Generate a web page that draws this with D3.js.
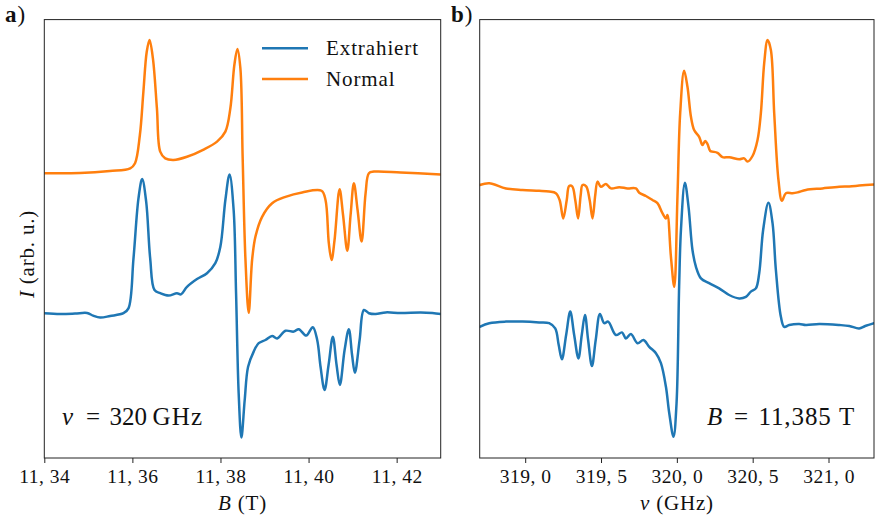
<!DOCTYPE html>
<html>
<head>
<meta charset="utf-8">
<script src="https://cdn.jsdelivr.net/npm/d3@7"></script>
<style>
  html, body { margin: 0; padding: 0; background: #fff; }
  svg { display: block; }
  text { font-family: "Liberation Serif", "DejaVu Serif", serif; fill: #111; }
</style>
</head>
<body>
<svg id="chart" width="875" height="518"></svg>
<script>
// ---- Panel a: field sweep at 320 GHz (B in tesla, intensity in arb. units)
const fieldNormal = [
  [11.3400,71.2],[11.3481,71.25],[11.3549,71.75],[11.3595,72.4],[11.3606,73.7],[11.3617,80.75],
  [11.3625,91.6],[11.36325,101.5],[11.36389,104.5],[11.36466,99.9],[11.36557,87.4],[11.36632,76.6],
  [11.36746,74.9],[11.36934,74.5],[11.37239,75.3],[11.37617,77.1],[11.37922,79.1],[11.38111,81.6],
  [11.38224,87.4],[11.38315,98.25],[11.38384,102.25],[11.38452,97.4],[11.38504,74.9],[11.38566,49.9],
  [11.38641,36.3],[11.38718,49.5],[11.38793,55.3],[11.38945,60.3],[11.39173,63.7],[11.39476,65.3],
  [11.39855,66.4],[11.40294,66.8],[11.40385,64.5],[11.40460,53.7],[11.40522,49.5],[11.40590,54.5],
  [11.40704,67.2],[11.40783,60.75],[11.40879,51.8],[11.40954,60.75],[11.41029,68.7],[11.41113,62],
  [11.41204,54.1],[11.41295,66.2],[11.41370,71.2],[11.41484,71.6],[11.42091,71.4],[11.4300,70.9]
];
const fieldExtracted = [
  [11.3400,36.2],[11.34357,36],[11.34698,36.1],[11.34971,36.25],[11.35108,35.6],[11.35267,35.1],
  [11.35495,35.5],[11.35797,36.2],[11.35911,37.4],[11.36025,49.9],[11.36138,64.9],[11.36222,69.75],
  [11.36313,64.1],[11.36404,49.9],[11.36502,42],[11.36632,41.2],[11.36821,40.6],[11.37012,41.2],
  [11.37103,40.9],[11.37239,42.8],[11.37467,44.75],[11.37694,46.2],[11.37883,48.7],[11.37997,52.8],
  [11.38111,64.5],[11.38206,70.9],[11.38299,62],[11.38354,41.2],[11.38413,16.2],[11.38475,5.1],
  [11.38550,14.5],[11.38627,22.8],[11.38754,26.6],[11.38868,28.7],[11.39020,29.5],[11.39173,30.5],
  [11.39287,29.9],[11.39476,31.8],[11.39664,31.6],[11.39778,32.2],[11.39946,30.6],[11.40096,32.7],
  [11.40196,29.5],[11.40272,22.8],[11.40363,17],[11.40454,23.25],[11.40551,30.3],[11.40636,23.25],
  [11.40711,18.25],[11.40818,27],[11.40915,32.2],[11.40988,25.75],[11.41052,21.3],[11.41159,29.5],
  [11.41257,37],[11.41370,36.2],[11.41523,36],[11.41750,36.4],[11.42091,36.25],[11.42546,36.4],
  [11.42811,36.25],[11.4300,36]
];

// ---- Panel b: frequency sweep at 11,385 T (nu in GHz, intensity in arb. units)
const freqNormal = [
  [318.70,68.25],[318.763,68.7],[318.873,67.4],[318.982,67],[319.092,66.8],[319.158,66.6],
  [319.202,66.2],[319.227,64.5],[319.251,59.9],[319.274,64.5],[319.290,68],[319.310,67.9],
  [319.330,64.5],[319.349,59.9],[319.366,65.75],[319.378,68.25],[319.402,67.9],[319.425,64.5],
  [319.444,59.9],[319.462,65.75],[319.477,69.1],[319.499,67.8],[319.532,68.5],[319.565,67.4],
  [319.620,67.7],[319.675,67.4],[319.730,67.4],[319.752,66.3],[319.796,65.5],[319.839,64.5],
  [319.872,63.7],[319.905,61.2],[319.928,59.9],[319.938,60.75],[319.961,50.3],[319.983,42.8],
  [320.004,65.3],[320.022,86.2],[320.048,96.8],[320.070,92.8],[320.093,85.3],[320.114,82],
  [320.147,80.3],[320.169,78.25],[320.187,79.25],[320.202,78.5],[320.220,76.75],[320.235,76.6],
  [320.268,76.3],[320.301,75.2],[320.345,75.2],[320.411,74.7],[320.444,74.9],[320.466,74.1],
  [320.499,75.5],[320.532,79.5],[320.554,86.2],[320.576,98.7],[320.598,104.5],[320.620,102],
  [320.642,86.2],[320.670,69.5],[320.693,64.3],[320.719,66.2],[320.763,66.2],[320.796,66.4],
  [320.851,67],[320.960,67.4],[321.071,67.8],[321.137,67.9],[321.202,68.1],[321.30,68.4]
];
const freqExtracted = [
  [318.70,32.8],[318.763,33.7],[318.873,34.1],[318.982,34.1],[319.092,33.9],[319.158,33.7],
  [319.198,32.4],[319.221,28.25],[319.242,24.7],[319.270,30.75],[319.297,36.6],[319.323,30.75],
  [319.351,24.9],[319.373,30.75],[319.394,35.75],[319.415,29.5],[319.440,23],[319.465,29.5],
  [319.493,36],[319.521,33.7],[319.547,34.1],[319.598,30.75],[319.638,31.4],[319.664,29.9],
  [319.697,31],[319.741,28.7],[319.780,29.5],[319.818,27.8],[319.862,26.2],[319.895,23.7],
  [319.928,17.8],[319.950,11.2],[319.978,5.3],[319.998,13.7],[320.015,42.8],[320.027,57],
  [320.053,68.8],[320.077,62.8],[320.103,52],[320.126,47.8],[320.159,44.9],[320.213,43.7],
  [320.279,42.4],[320.345,40.75],[320.411,39.9],[320.455,40.3],[320.488,41.6],[320.521,42.4],
  [320.543,46.2],[320.569,57],[320.604,63.8],[320.631,58.7],[320.653,47],[320.686,35.3],
  [320.708,32.8],[320.741,33.25],[320.807,33.5],[320.851,33.25],[320.939,33.5],[321.071,33.25],
  [321.137,33],[321.202,32.4],[321.242,33],[321.30,33.7]
];

const fieldTicks = [11.34, 11.36, 11.38, 11.40, 11.42];
const freqTicks = [319.0, 319.5, 320.0, 320.5, 321.0];
const seriesNames = ["Extrahiert", "Normal"];
const seriesColors = ["#1f77b4", "#ff7f0e"];

const svg = d3.select("#chart");
const plotTop = 19.6, plotBottom = 458;
const y = d3.scaleLinear().domain([0, 109.6]).range([plotBottom, plotTop]);

// German decimal comma, with a gap after it on the axes
const commaFmt = p => d => d3.format("." + p + "f")(d).replace(".", ", ");

function panel(id, x, ticks, fmt, series) {
  const g = svg.append("g");
  const [x0, x1] = x.range();
  g.append("clipPath").attr("id", id)
    .append("rect").attr("x", x0).attr("y", plotTop).attr("width", x1 - x0).attr("height", plotBottom - plotTop);

  const line = d3.line().x(d => x(d[0])).y(d => y(d[1])).curve(d3.curveCatmullRom.alpha(0.5));
  const lines = g.append("g").attr("clip-path", `url(#${id})`);
  series.forEach((s, i) => {
    lines.append("path").datum(s)
      .attr("d", line)
      .attr("fill", "none")
      .attr("stroke", seriesColors[i])
      .attr("stroke-width", 2.5)
      .attr("stroke-linejoin", "round")
      .attr("stroke-linecap", "round");
  });

  const axis = d3.axisBottom(x).tickValues(ticks).tickFormat(fmt).tickSize(5).tickPadding(6);
  const ax = g.append("g").attr("transform", `translate(0,${plotBottom})`).call(axis);
  ax.select(".domain").remove();
  ax.selectAll(".tick line").attr("stroke", "#222").attr("stroke-width", 1);
  ax.selectAll(".tick text")
    .attr("font-family", "Liberation Serif, DejaVu Serif, serif")
    .attr("font-size", 19.5).attr("letter-spacing", 0.5).attr("fill", "#111");

  g.append("rect")
    .attr("x", x0).attr("y", plotTop).attr("width", x1 - x0).attr("height", plotBottom - plotTop)
    .attr("fill", "none").attr("stroke", "#222").attr("stroke-width", 1);
  return g;
}

// Panel a
const xa = d3.scaleLinear().domain([11.34, 11.43]).range([44.3, 440.7]);
panel("clipA", xa, fieldTicks, commaFmt(2), [fieldExtracted, fieldNormal]);

// Panel b
const xb = d3.scaleLinear().domain([318.7, 321.3]).range([479.7, 874]);
panel("clipB", xb, freqTicks, commaFmt(1), [freqExtracted, freqNormal]);

// Axis labels
function label(x, yPos, italic, rest, transform) {
  const t = svg.append("text").attr("text-anchor", "middle").attr("font-size", 21).attr("letter-spacing", 0.8);
  if (transform) t.attr("transform", transform); else t.attr("x", x).attr("y", yPos);
  t.append("tspan").attr("font-style", "italic").text(italic);
  t.append("tspan").text(" " + rest);
  return t;
}
label(242.5, 510, "B", "(T)");
label(677, 510, "ν", "(GHz)");
label(0, 0, "I", "(arb. u.)", "translate(34,254) rotate(-90)");

// Panel letters
[["a", 5], ["b", 451]].forEach(([c, x]) => {
  const t = svg.append("text").attr("x", x).attr("y", 22).attr("font-size", 23);
  t.append("tspan").attr("font-weight", "bold").text(c);
  t.append("tspan").attr("dx", 1).text(")");
});

// In-plot annotations, set piecewise with math-style spacing
function mathLine(parts) {
  parts.forEach(([str, x, italic, spacing]) => {
    svg.append("text").attr("x", x).attr("y", 425).attr("font-size", 25)
      .attr("letter-spacing", spacing || 0)
      .attr("font-style", italic ? "italic" : "normal").text(str);
  });
}
mathLine([["ν", 62, true], ["=", 86, false], ["320", 109.5, false], ["GHz", 152.5, false, 1.2]]);
mathLine([["B", 707, true], ["=", 734, false], ["11,385", 758.5, false, 0.9], ["T", 839, false]]);

// Legend (panel a, upper right)
const legend = svg.append("g");
seriesNames.forEach((name, i) => {
  const ly = 48.3 + i * 30.7;
  legend.append("line").attr("x1", 262).attr("x2", 308).attr("y1", ly).attr("y2", ly)
    .attr("stroke", seriesColors[i]).attr("stroke-width", 2.5);
  legend.append("text").attr("x", 326).attr("y", ly + 6.8).attr("font-size", 21)
    .attr("letter-spacing", 0.9).text(name);
});
</script>
</body>
</html>
